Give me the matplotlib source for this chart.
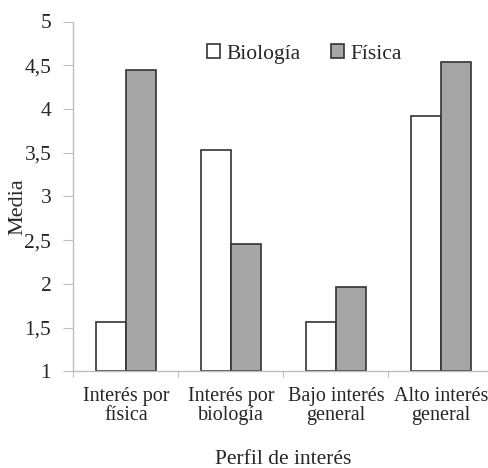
import numpy as np
import matplotlib
matplotlib.use('Agg')
import matplotlib.pyplot as plt

plt.rcParams['font.family'] = ['Liberation Serif', 'DejaVu Serif']

# datos
categorias = ['Interés por\nfísica', 'Interés por\nbiología', 'Bajo interés\ngeneral', 'Alto interés\ngeneral']
biologia = [1.56, 3.53, 1.56, 3.92]
fisica = [4.44, 2.45, 1.96, 4.54]
y_ticks = [1, 1.5, 2, 2.5, 3, 3.5, 4, 4.5, 5]
y_labels = ['1', '1,5', '2', '2,5', '3', '3,5', '4', '4,5', '5']

texto = '#262626'
eje = '#bfbfbf'

fig = plt.figure(figsize=(4.89, 4.68), dpi=100)
ax = fig.add_axes([73.5 / 489, (468 - 371.3) / 468, 420 / 489, 349.8 / 468])

x = np.arange(len(categorias))
ancho = 0.287
ax.bar(x - ancho / 2, np.array(biologia) - 1, ancho, bottom=1, color='white',
       edgecolor='#333333', linewidth=1.2, label='Biología')
ax.bar(x + ancho / 2, np.array(fisica) - 1, ancho, bottom=1, color='#a6a6a6',
       edgecolor='#333333', linewidth=1.2, label='Física')

ax.set_xlim(-0.5, 3.5)
ax.set_ylim(1, 5)
ax.set_yticks(y_ticks)
ax.set_yticklabels(y_labels, fontsize=15.5, color=texto)
ax.set_xticks(np.arange(-0.5, 4, 1))
ax.set_xticklabels([])
ax.set_xticks(x, minor=True)
ax.set_xticklabels(categorias, minor=True, fontsize=14.5, color=texto, linespacing=1.05)
ax.tick_params(axis='x', which='minor', length=0, pad=11)
ax.tick_params(axis='x', which='major', length=4, color=eje)
ax.tick_params(axis='y', length=7, color=eje, pad=9)

for s in ['top', 'right']:
    ax.spines[s].set_visible(False)
for s in ['left', 'bottom']:
    ax.spines[s].set_color(eje)
    ax.spines[s].set_linewidth(1)

ax.set_ylabel('Media', fontsize=16, color=texto)
ax.yaxis.set_label_coords(-0.11, 0.47)
ax.set_xlabel('Perfil de interés', fontsize=15.5, color=texto)
ax.xaxis.set_label_coords(0.5, -0.225)

leg = ax.legend(loc='upper center', bbox_to_anchor=(0.55, 0.99), ncol=2, frameon=False,
                fontsize=15.5, handlelength=0.6, handleheight=0.6, handletextpad=0.3,
                columnspacing=1.4)
for t in leg.get_texts():
    t.set_color(texto)

fig.savefig('out.png', dpi=100)
